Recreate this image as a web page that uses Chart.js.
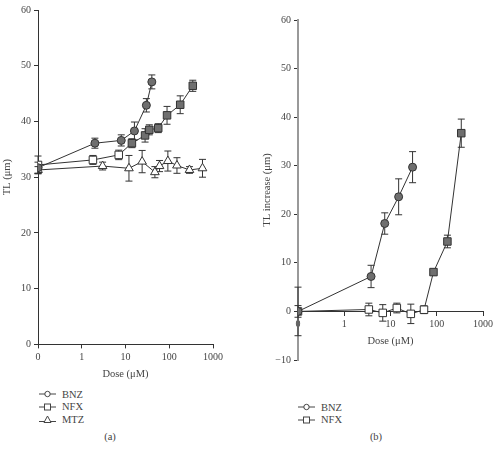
<!DOCTYPE html>
<html>
<head>
  <title>TL dose response</title>
  <script src="https://cdn.jsdelivr.net/npm/chart.js"></script>
  <style>
    body {
      margin: 0;
      background: #fff;
      font-family: "Liberation Serif", serif;
      color: #444;
    }
    #wrap {
      position: relative;
      width: 498px;
      height: 452px;
    }
    canvas {
      position: absolute;
    }
    .legend {
      position: absolute;
      font-size: 10.5px;
    }
    .legend div {
      display: flex;
      align-items: center;
      height: 12.5px;
    }
    .legend svg {
      margin-right: 6px;
    }
    .plabel {
      position: absolute;
      font-size: 10.5px;
      width: 30px;
      text-align: center;
    }
  </style>
</head>
<body>
  <div id="wrap">
    <canvas id="chartA" width="240" height="385" style="left:0;top:0"></canvas>
    <canvas id="chartB" width="248" height="370" style="left:250px;top:0"></canvas>

    <div class="legend" style="left:39px;top:388px">
      <div><svg width="17" height="10"><line x1="0" y1="5" x2="17" y2="5" stroke="#444"/><circle cx="8.5" cy="5" r="2.7" fill="#fff" stroke="#444"/></svg>BNZ</div>
      <div><svg width="17" height="10"><line x1="0" y1="5" x2="17" y2="5" stroke="#444"/><rect x="5.5" y="2" width="6" height="6" fill="#fff" stroke="#444"/></svg>NFX</div>
      <div><svg width="17" height="10"><line x1="0" y1="7.5" x2="17" y2="7.5" stroke="#444"/><polygon points="8.5,2 12,8.5 5,8.5" fill="#fff" stroke="#444"/></svg>MTZ</div>
    </div>
    <div class="legend" style="left:298px;top:401px">
      <div><svg width="17" height="10"><line x1="0" y1="5" x2="17" y2="5" stroke="#444"/><circle cx="8.5" cy="5" r="2.7" fill="#fff" stroke="#444"/></svg>BNZ</div>
      <div><svg width="17" height="10"><line x1="0" y1="5" x2="17" y2="5" stroke="#444"/><rect x="5.5" y="2" width="6" height="6" fill="#fff" stroke="#444"/></svg>NFX</div>
    </div>
    <div class="plabel" style="left:95px;top:431px">(a)</div>
    <div class="plabel" style="left:361px;top:431px">(b)</div>
  </div>

  <script>
    // dose 0 is drawn at the "0" tick, one decade below 1
    const doseTicks = [0.1, 1, 10, 100, 1000];

    // panel (a): TL (um)
    const bnzDoseA = [0, 2, 8, 16, 30, 40];
    const bnzTLA = [31.7, 36.1, 36.6, 38.3, 42.9, 47.1];
    const bnzErrA = [1.0, 0.9, 1.0, 1.6, 1.2, 1.25];

    const nfxDoseA = [0, 1.8, 7, 14, 28, 35, 56, 89, 178, 345];
    const nfxTLA = [32.2, 33.1, 34.0, 36.1, 37.5, 38.5, 38.8, 41.1, 43.0, 46.4];
    const nfxErrA = [1.6, 0.8, 0.85, 0.8, 1.2, 0.9, 0.8, 1.6, 1.6, 1.0];
    const nfxFilledA = [false, false, false, true, true, true, true, true, true, true];

    const mtzDoseA = [0, 3, 12, 24, 47, 60, 93, 150, 290, 575];
    const mtzTLA = [31.3, 32.0, 31.6, 32.8, 30.9, 32.0, 32.9, 32.1, 31.3, 31.6];
    const mtzErrA = [0.6, 0.7, 2.3, 2.0, 1.0, 1.0, 1.8, 1.4, 0.6, 1.6];

    // panel (b): TL increase (um)
    const bnzDoseB = [0, 3.8, 7.5, 15, 30];
    const bnzIncB = [0, 7.2, 18.1, 23.6, 29.7];
    const bnzErrB = [5.0, 2.3, 2.2, 3.7, 3.2];

    const nfxDoseB = [0, 3.4, 6.8, 13.7, 27.5, 53, 85, 170, 339];
    const nfxIncB = [0, 0.4, -0.3, 0.7, -0.5, 0.35, 8.1, 14.4, 36.7];
    const nfxErrB = [1.2, 1.3, 1.7, 1.0, 2.0, 0.8, 0.6, 1.3, 2.9];
    const nfxFilledB = [false, false, false, false, false, false, true, true, true];

    const GRAY = '#6f6f6f';
    const INK = '#333';
    const TXT = '#444';

    function pts(doses, vals) {
      return doses.map((d, i) => ({ x: d === 0 ? 0.1 : d, y: vals[i] }));
    }

    function series(label, doses, vals, errs, style, filled) {
      return {
        label: label,
        data: pts(doses, vals),
        errors: errs,
        pointStyle: style,
        pointRadius: style === 'circle' ? 4 : (style === 'rect' ? 5.3 : 5),
        pointBorderWidth: 1,
        pointBorderColor: INK,
        pointBackgroundColor: filled.map(f => f ? GRAY : '#fff'),
        borderColor: INK,
        borderWidth: 1,
        showLine: true,
        tension: 0
      };
    }

    // vertical error bars with caps, drawn under the markers
    const errorBars = {
      id: 'errorBars',
      beforeDatasetsDraw(chart) {
        const ctx = chart.ctx;
        const xs = chart.scales.x, ys = chart.scales.y;
        ctx.save();
        ctx.strokeStyle = INK;
        ctx.lineWidth = 1;
        chart.data.datasets.forEach(ds => {
          ds.data.forEach((p, i) => {
            const e = ds.errors[i];
            const px = xs.getPixelForValue(p.x);
            const top = ys.getPixelForValue(p.y + e);
            const bot = ys.getPixelForValue(p.y - e);
            ctx.beginPath();
            ctx.moveTo(px, top); ctx.lineTo(px, bot);
            ctx.moveTo(px - 3.5, top); ctx.lineTo(px + 3.5, top);
            ctx.moveTo(px - 3.5, bot); ctx.lineTo(px + 3.5, bot);
            ctx.stroke();
          });
        });
        ctx.restore();
      }
    };

    const tickFont = { family: 'Liberation Serif', size: 10 };
    const titleFont = { family: 'Liberation Serif', size: 10.5 };

    function xAxis(extra) {
      return Object.assign({
        type: 'logarithmic',
        min: 0.1,
        max: 1000,
        afterBuildTicks: s => { s.ticks = doseTicks.map(v => ({ value: v })); },
        ticks: {
          color: TXT, font: tickFont, padding: 3, maxRotation: 0,
          callback: v => v === 0.1 ? '0' : String(v)
        },
        grid: { display: true, drawOnChartArea: false, drawTicks: true, tickLength: 4, color: INK },
        border: { display: true, color: INK, width: 1 },
        title: { display: true, text: 'Dose (\u03bcM)', color: TXT, font: titleFont, padding: { top: 2 } }
      }, extra);
    }

    function yAxis(min, title, borderColor, borderWidth, width) {
      return {
        min: min,
        max: 60,
        ticks: {
          stepSize: 10, color: TXT, font: tickFont, padding: 3,
          callback: v => v < 0 ? '\u2212' + Math.abs(v) : String(v)
        },
        grid: { display: true, drawOnChartArea: false, drawTicks: true, tickLength: 4, color: INK },
        border: { display: true, color: borderColor, width: borderWidth },
        title: { display: true, text: title, color: TXT, font: titleFont, padding: 0 },
        afterFit: s => { s.width = width; }
      };
    }

    const baseOpts = {
      responsive: false,
      animation: false,
      plugins: { legend: { display: false }, tooltip: { enabled: false } }
    };

    new Chart(document.getElementById('chartA'), {
      type: 'scatter',
      data: {
        datasets: [
          series('BNZ', bnzDoseA, bnzTLA, bnzErrA, 'circle', bnzDoseA.map(() => true)),
          series('NFX', nfxDoseA, nfxTLA, nfxErrA, 'rect', nfxFilledA),
          series('MTZ', mtzDoseA, mtzTLA, mtzErrA, 'triangle', mtzDoseA.map(() => false))
        ]
      },
      options: Object.assign({}, baseOpts, {
        layout: { padding: { left: 1, right: 27, top: 10, bottom: 0 } },
        scales: {
          x: xAxis({}),
          y: yAxis(0, 'TL (\u03bcm)', INK, 1, 37)
        }
      }),
      plugins: [errorBars]
    });

    new Chart(document.getElementById('chartB'), {
      type: 'scatter',
      data: {
        datasets: [
          series('BNZ', bnzDoseB, bnzIncB, bnzErrB, 'circle', bnzDoseB.map(() => true)),
          series('NFX', nfxDoseB, nfxIncB, nfxErrB, 'rect', nfxFilledB)
        ]
      },
      options: Object.assign({}, baseOpts, {
        layout: { padding: { left: 11, right: 15, top: 20, bottom: 10 } },
        scales: {
          x: xAxis({ position: { y: 0 } }),
          y: yAxis(-10, 'TL increase (\u03bcm)', '#999', 2, 37)
        }
      }),
      plugins: [errorBars]
    });
  </script>
</body>
</html>
